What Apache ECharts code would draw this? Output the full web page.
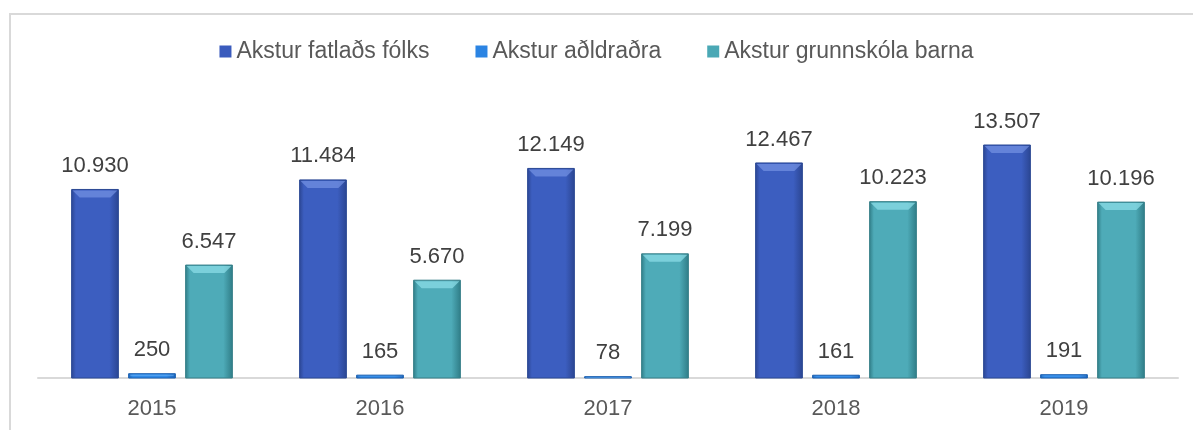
<!DOCTYPE html>
<html>
<head>
<meta charset="UTF-8">
<title>Akstur</title>
<script src="https://cdn.jsdelivr.net/npm/echarts@6/dist/echarts.min.js"></script>
<style>
	body { margin: 0; background: #fff; }
	#frame { position: absolute; left: 9px; top: 13px; width: 1184px; height: 417px;
		border-top: 2px solid #d9d9d9; border-left: 2px solid #d9d9d9; }
	#main { position: absolute; left: 0; top: 0; width: 1193px; height: 430px; }
</style>
</head>
<body>
<div id="frame"></div>
<div id="main"></div>
<script type="text/javascript">
	// gögn
	var years = ['2015', '2016', '2017', '2018', '2019'];
	var fatladra = [10930, 11484, 12149, 12467, 13507];
	var aldradra = [250, 165, 78, 161, 191];
	var grunnskola = [6547, 5670, 7199, 10223, 10196];
	var names = ['Akstur fatlaðs fólks', 'Akstur aðldraðra', 'Akstur grunnskóla barna'];

	// litir: jaðar, miðja, efri skán, lína
	var colors = [
		{edge: '#2b4591', mid: '#3c5ec0', top: '#7593e4', line: '#2a4894', main: '#3a5bbd'},
		{edge: '#1c63b8', mid: '#2f8ae8', top: '#6fb3f5', line: '#1a5fb0', main: '#2b84e3'},
		{edge: '#2f7c86', mid: '#4eabb8', top: '#8ee0ea', line: '#367f88', main: '#4aa8b5'}
	];

	function fmt(v) {
		return String(v).replace(/\B(?=(\d{3})+(?!\d))/g, '.');
	}
	function grad(c) {
		return new echarts.graphic.LinearGradient(0, 0, 1, 0, [
			{offset: 0, color: c.edge},
			{offset: 0.1, color: c.mid},
			{offset: 0.8, color: c.mid},
			{offset: 1, color: c.edge}
		]);
	}

	// súla með skán ofan á
	function makeRender(idx) {
		var c = colors[idx];
		return function (params, api) {
			var val = api.value(1);
			var top = api.coord([api.value(0), val]);
			var bot = api.coord([api.value(0), 0]);
			var cw = api.size([1, 0])[0];
			var w = cw * 0.205, step = cw * 0.25;
			var cx = top[0] + (idx - 1) * step;
			var l = cx - w / 2, r = cx + w / 2, t = top[1], b = bot[1];
			var h = b - t;
			var e = Math.min(8, h / 2);
			return {
				type: 'group',
				children: [
					{
						type: 'rect',
						shape: {x: l, y: t, width: w, height: h},
						style: {fill: grad(c), stroke: c.line, lineWidth: 1},
						textContent: {
							style: {text: fmt(val), fontFamily: 'Liberation Sans', fontSize: 22, fill: '#404040'}
						},
						textConfig: {position: 'top', distance: 12}
					},
					{
						type: 'polygon',
						shape: {points: [[l + 1, t + 1], [r - 1, t + 1], [r - e, t + e], [l + e, t + e]]},
						style: {fill: c.top, opacity: 0.7}
					}
				]
			};
		};
	}

	function pairs(arr) {
		return arr.map(function (v, i) { return [i, v]; });
	}

	var myChart = echarts.init(document.getElementById('main'));

	var option = {
		animation: false,
		legend: {
			top: 35,
			left: 'center',
			itemWidth: 12,
			itemHeight: 12,
			itemGap: 46,
			icon: 'rect',
			textStyle: { fontFamily: 'Liberation Sans', fontSize: 23, color: '#595959' },
			data: names
		},
		grid: { left: 38, right: 15, top: 102, bottom: 52 },
		xAxis: {
			type: 'category',
			data: years,
			axisLine: { lineStyle: { color: '#d9d9d9', width: 2 } },
			axisTick: { show: false },
			axisLabel: { fontFamily: 'Liberation Sans', fontSize: 22, color: '#595959', margin: 20 }
		},
		yAxis: {
			type: 'value',
			min: 0,
			max: 16000,
			show: false
		},
		series: [
			{ name: names[0], type: 'custom', renderItem: makeRender(0), data: pairs(fatladra),
				encode: {x: 0, y: 1}, itemStyle: {color: colors[0].main} },
			{ name: names[1], type: 'custom', renderItem: makeRender(1), data: pairs(aldradra),
				encode: {x: 0, y: 1}, itemStyle: {color: colors[1].main} },
			{ name: names[2], type: 'custom', renderItem: makeRender(2), data: pairs(grunnskola),
				encode: {x: 0, y: 1}, itemStyle: {color: colors[2].main} }
		]
	};

	myChart.setOption(option);
</script>
</body>
</html>
